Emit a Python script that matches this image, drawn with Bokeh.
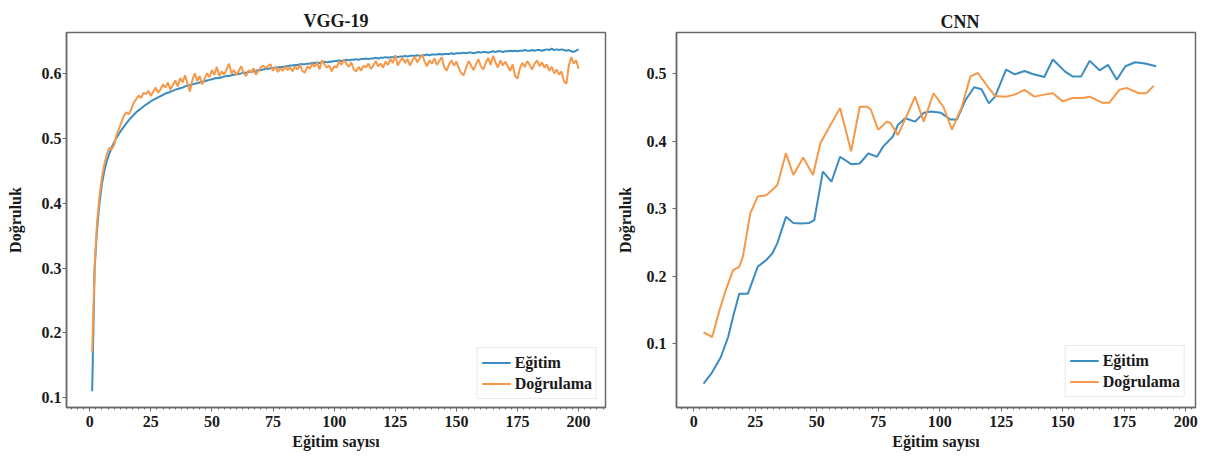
import numpy as np
from bokeh.plotting import figure
from bokeh.layouts import row
from bokeh.models import Range1d, Legend, LegendItem, FixedTicker
from bokeh.embed import file_html
from bokeh.resources import INLINE

# ---------------- DATA ----------------
vgg_epochs = list(range(1, 201))
vgg_train = [
    0.110, 0.300, 0.360, 0.400, 0.430, 0.450, 0.465, 0.476, 0.486, 0.494,
    0.501, 0.507, 0.513, 0.518, 0.523, 0.528, 0.532, 0.536, 0.540, 0.543,
    0.546, 0.549, 0.552, 0.554, 0.557, 0.559, 0.561, 0.563, 0.565, 0.567,
    0.569, 0.570, 0.572, 0.573, 0.575, 0.576, 0.577, 0.578, 0.580, 0.581,
    0.582, 0.583, 0.584, 0.585, 0.586, 0.587, 0.588, 0.589, 0.590, 0.591,
    0.592, 0.593, 0.593, 0.594, 0.595, 0.596, 0.596, 0.597, 0.598, 0.599,
    0.599, 0.600, 0.601, 0.601, 0.602, 0.603, 0.603, 0.604, 0.605, 0.605,
    0.606, 0.607, 0.607, 0.608, 0.608, 0.609, 0.609, 0.610, 0.610, 0.611,
    0.611, 0.612, 0.612, 0.613, 0.613, 0.614, 0.614, 0.614, 0.615, 0.615,
    0.616, 0.616, 0.617, 0.616, 0.617, 0.618, 0.617, 0.618, 0.618, 0.619,
    0.619, 0.620, 0.619, 0.620, 0.621, 0.620, 0.621, 0.621, 0.622, 0.621,
    0.622, 0.622, 0.623, 0.622, 0.623, 0.623, 0.624, 0.623, 0.624, 0.624,
    0.625, 0.624, 0.625, 0.625, 0.626, 0.625, 0.626, 0.626, 0.627, 0.626,
    0.627, 0.627, 0.627, 0.628, 0.627, 0.628, 0.628, 0.629, 0.628, 0.629,
    0.629, 0.629, 0.630, 0.629, 0.630, 0.630, 0.630, 0.631, 0.630, 0.631,
    0.631, 0.631, 0.632, 0.631, 0.632, 0.632, 0.631, 0.632, 0.633, 0.632,
    0.633, 0.633, 0.632, 0.633, 0.634, 0.633, 0.634, 0.634, 0.633, 0.634,
    0.634, 0.635, 0.634, 0.635, 0.634, 0.635, 0.635, 0.636, 0.635, 0.635,
    0.636, 0.635, 0.636, 0.636, 0.635, 0.636, 0.637, 0.636, 0.638, 0.636,
    0.637, 0.636, 0.637, 0.636, 0.635, 0.636, 0.634, 0.633, 0.635, 0.637,
]
vgg_val = [
    0.170, 0.300, 0.370, 0.410, 0.440, 0.460, 0.475, 0.485, 0.483, 0.490,
    0.505, 0.515, 0.525, 0.535, 0.540, 0.537, 0.545, 0.555, 0.560, 0.566,
    0.562, 0.570, 0.568, 0.573, 0.565, 0.572, 0.578, 0.570, 0.576, 0.583,
    0.578, 0.586, 0.575, 0.582, 0.589, 0.580, 0.593, 0.586, 0.597, 0.584,
    0.572, 0.590, 0.600, 0.588, 0.596, 0.583, 0.592, 0.600, 0.594, 0.605,
    0.598, 0.610, 0.596, 0.603, 0.598, 0.606, 0.615, 0.600, 0.605, 0.597,
    0.604, 0.611, 0.600, 0.596, 0.605, 0.601, 0.608, 0.598, 0.604, 0.609,
    0.612, 0.608, 0.612, 0.614, 0.604, 0.610, 0.602, 0.608, 0.604, 0.611,
    0.605, 0.609, 0.603, 0.611, 0.606, 0.613, 0.604, 0.601, 0.611, 0.607,
    0.615, 0.610, 0.617, 0.606, 0.620, 0.614, 0.609, 0.612, 0.603, 0.611,
    0.609, 0.618, 0.613, 0.621, 0.615, 0.610, 0.617, 0.606, 0.603, 0.610,
    0.604, 0.612, 0.609, 0.615, 0.607, 0.612, 0.619, 0.611, 0.615, 0.609,
    0.618, 0.613, 0.622, 0.616, 0.628, 0.612, 0.619, 0.624, 0.616, 0.622,
    0.612, 0.620, 0.626, 0.617, 0.623, 0.629, 0.618, 0.611, 0.620, 0.615,
    0.623, 0.613, 0.619, 0.625, 0.610, 0.604, 0.614, 0.620, 0.612, 0.618,
    0.608, 0.600, 0.597, 0.609, 0.619, 0.612, 0.605, 0.614, 0.622, 0.611,
    0.606, 0.616, 0.624, 0.613, 0.627, 0.617, 0.609, 0.620, 0.612, 0.618,
    0.611, 0.604, 0.614, 0.596, 0.592, 0.608, 0.616, 0.610, 0.619, 0.613,
    0.606, 0.615, 0.620, 0.611, 0.617, 0.609, 0.614, 0.604, 0.610, 0.600,
    0.606, 0.598, 0.603, 0.588, 0.584, 0.612, 0.625, 0.615, 0.620, 0.607,
]

cnn_train_epochs = [4, 7, 11, 14, 16, 18.5, 22, 26, 29.5, 32, 34, 37.5, 40.5, 43.5, 47, 49,
                    52.5, 56, 59.5, 64, 67.5, 71, 74.5, 77, 81, 83, 86, 90, 93.5, 96.5,
                    100.5, 104.5, 107, 110.5, 114, 117, 120, 122.5, 127, 130.5, 134.5,
                    137.5, 142.5, 146, 151, 154, 157.5, 161, 165, 168.5, 172, 175.5,
                    179.5, 183.5, 188]
cnn_train = [0.041, 0.055, 0.080, 0.110, 0.140, 0.174, 0.174, 0.214, 0.224, 0.234, 0.249,
             0.288, 0.279, 0.278, 0.279, 0.283, 0.355, 0.340, 0.377, 0.366, 0.367, 0.382,
             0.377, 0.392, 0.407, 0.424, 0.434, 0.429, 0.442, 0.444, 0.442, 0.432, 0.432,
             0.461, 0.480, 0.477, 0.456, 0.466, 0.506, 0.499, 0.504, 0.500, 0.495, 0.521,
             0.503, 0.496, 0.496, 0.519, 0.505, 0.513, 0.491, 0.511, 0.517, 0.515, 0.511]

cnn_val_epochs = [4, 7.5, 10.5, 13, 16, 18.5, 20, 23, 26, 29.5, 32, 34, 37.5, 40.5, 44.5,
                  48.5, 51.5, 54.5, 59.5, 64, 67.5, 70.5, 72, 75, 78.5, 80, 83, 86.5, 90,
                  93.5, 97.5, 101.5, 105, 109, 112.5, 115.5, 119.5, 122.5, 127, 130.5,
                  134.5, 138.5, 142.5, 146, 150, 154, 158, 161, 166, 169, 173, 176, 181,
                  184, 187]
cnn_val = [0.117, 0.110, 0.150, 0.179, 0.209, 0.214, 0.229, 0.293, 0.318, 0.320, 0.328,
           0.335, 0.382, 0.350, 0.376, 0.350, 0.397, 0.417, 0.449, 0.385, 0.451, 0.451,
           0.447, 0.417, 0.429, 0.427, 0.409, 0.437, 0.466, 0.429, 0.471, 0.451, 0.417,
           0.451, 0.496, 0.501, 0.481, 0.467, 0.466, 0.469, 0.476, 0.466, 0.469, 0.471,
           0.459, 0.464, 0.464, 0.466, 0.457, 0.457, 0.476, 0.479, 0.471, 0.471, 0.482]

x_ticks = [0, 25, 50, 75, 100, 125, 150, 175, 200]
vgg_y_ticks = [0.1, 0.2, 0.3, 0.4, 0.5, 0.6]
cnn_y_ticks = [0.1, 0.2, 0.3, 0.4, 0.5]
series_names = ["Eğitim", "Doğrulama"]

# ---------------- STYLE ----------------
FONT = "Liberation Serif"
BLUE = "#3a8cc1"
ORANGE = "#f5984a"
FRAME = "#6a6a6a"
TXT = "#1a1a1a"


def build(title, xr, yr, yticks, w, h, bl, br, bt, bb, title_align, title_offset,
          title_valign, xs1, ys1, xs2, ys2, leg_margin, ylabel_standoff, ytick_standoff):
    p = figure(width=w, height=h, x_range=Range1d(*xr), y_range=Range1d(*yr),
               output_backend="svg", toolbar_location=None,
               min_border_left=bl, min_border_right=br,
               min_border_top=bt, min_border_bottom=bb)
    p.title.text = title
    p.title.align = title_align
    p.title.text_font = FONT
    p.title.text_font_size = "18px"
    p.title.text_font_style = "bold"
    p.title.text_color = TXT
    p.title.standoff = 2
    p.title.offset = title_offset
    p.title.vertical_align = title_valign
    p.grid.visible = False
    p.outline_line_color = FRAME
    p.outline_line_width = 1.5
    p.background_fill_color = "white"
    p.border_fill_color = "white"

    minor = [v for v in np.arange(-10, 212.5, 2.5) if v % 25 != 0]
    p.xaxis.ticker = FixedTicker(ticks=x_ticks, minor_ticks=minor)
    p.yaxis.ticker = FixedTicker(ticks=yticks)
    for ax in (p.xaxis, p.yaxis):
        ax.axis_line_color = FRAME
        ax.axis_line_width = 1.5
        ax.major_tick_line_color = FRAME
        ax.minor_tick_line_color = FRAME
        ax.major_tick_in = 0
        ax.major_tick_out = 4
        ax.minor_tick_in = 0
        ax.minor_tick_out = 2
        ax.major_label_text_font = FONT
        ax.major_label_text_font_size = "16px"
        ax.major_label_text_font_style = "bold"
        ax.major_label_text_color = TXT
        ax.axis_label_text_font = FONT
        ax.axis_label_text_font_size = "16px"
        ax.axis_label_text_font_style = "bold"
        ax.axis_label_text_color = TXT
    p.yaxis.minor_tick_line_color = None
    p.xaxis.major_label_standoff = 4
    p.yaxis.major_label_standoff = ytick_standoff
    p.xaxis.axis_label = "Eğitim sayısı"
    p.yaxis.axis_label = "Doğruluk"
    p.xaxis.axis_label_standoff = 3
    p.yaxis.axis_label_standoff = ylabel_standoff

    r1 = p.line(xs1, ys1, line_color=BLUE, line_width=2)
    r2 = p.line(xs2, ys2, line_color=ORANGE, line_width=2)
    leg = Legend(items=[LegendItem(label=series_names[0], renderers=[r1]),
                        LegendItem(label=series_names[1], renderers=[r2])],
                 location="bottom_right")
    leg.margin = leg_margin
    leg.padding = 4
    leg.spacing = 0
    leg.glyph_width = 29
    leg.glyph_height = 21
    leg.label_height = 21
    leg.label_standoff = 4
    leg.label_text_font = FONT
    leg.label_text_font_size = "16px"
    leg.label_text_font_style = "bold"
    leg.label_text_color = TXT
    leg.border_line_color = "#d6d6d6"
    leg.border_line_width = 1.5
    leg.background_fill_alpha = 0.9
    p.add_layout(leg)
    return p


p1 = build("VGG-19", (-9.5, 211), (0.085, 0.663), vgg_y_ticks,
           610, 461, 66, 5, 27, 50, "center", 0, "middle",
           vgg_epochs, vgg_train, vgg_epochs, vgg_val, 8, 15, 1)
p2 = build("CNN", (-7, 204), (0.0056, 0.561), cnn_y_ticks,
           601, 461, 66, 16, 32, 54, "left", 264, "bottom",
           cnn_train_epochs, cnn_train, cnn_val_epochs, cnn_val, 10, 10, 6)

layout = row(p1, p2, spacing=0)
open("out.html", "w").write(file_html(layout, INLINE))
